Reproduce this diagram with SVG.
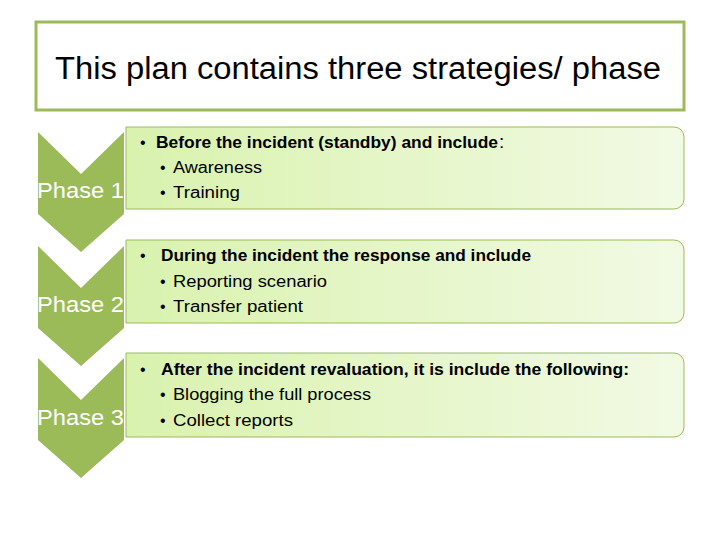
<svg xmlns="http://www.w3.org/2000/svg" width="720" height="540" viewBox="0 0 720 540">
<defs>
<linearGradient id="g" x1="0" y1="0" x2="1" y2="0">
<stop offset="0" stop-color="#d9f2ae"/>
<stop offset="1" stop-color="#f2fae4"/>
</linearGradient>
<style>
.t{font-family:"Liberation Sans",Arial,sans-serif;fill:#000}
.b{font-weight:bold;font-size:16px}
.s{font-size:16px}
.ph{font-family:"Liberation Sans",Arial,sans-serif;font-size:22px;fill:#fff}
.chev{fill:#9bbb59}
.box{fill:url(#g);stroke:#9bbb59;stroke-width:1}
</style>
</defs>
<rect width="720" height="540" fill="#fff"/>
<g id="title">
<rect x="36" y="22" width="648" height="88" fill="#fff" stroke="#9bbb59" stroke-width="3"/>
<text class="t" x="358" y="79" font-size="31" text-anchor="middle" textLength="606" lengthAdjust="spacingAndGlyphs">This plan contains three strategies/ phase</text>
</g>
<g id="phase1">
<path class="box" d="M126,127 H674 A10,10 0 0 1 684,137 V199 A10,10 0 0 1 674,209 H126 Z"/>
<polygon class="chev" points="38,132 81,174 124,132 124,214 81,252 38,214"/>
<text class="ph" x="37" y="198" textLength="87" lengthAdjust="spacingAndGlyphs">Phase 1</text>
<text class="t s" x="140" y="148">•</text>
<text class="t b" x="156" y="148" textLength="342" lengthAdjust="spacingAndGlyphs">Before the incident (standby) and include</text>
<text class="t" x="499" y="148" font-size="19">:</text>
<text class="t s" x="160" y="173">•</text>
<text class="t s" x="173" y="173" textLength="89" lengthAdjust="spacingAndGlyphs">Awareness</text>
<text class="t s" x="160" y="198">•</text>
<text class="t s" x="173" y="198" textLength="67" lengthAdjust="spacingAndGlyphs">Training</text>
</g>
<g id="phase2">
<path class="box" d="M126,240 H674 A10,10 0 0 1 684,250 V313 A10,10 0 0 1 674,323 H126 Z"/>
<polygon class="chev" points="38,246 81,288 124,246 124,328 81,366 38,328"/>
<text class="ph" x="37" y="312" textLength="87" lengthAdjust="spacingAndGlyphs">Phase 2</text>
<text class="t s" x="140" y="261">•</text>
<text class="t b" x="161" y="261" textLength="370" lengthAdjust="spacingAndGlyphs">During the incident the response and include</text>
<text class="t s" x="160" y="287">•</text>
<text class="t s" x="173" y="287" textLength="154" lengthAdjust="spacingAndGlyphs">Reporting scenario</text>
<text class="t s" x="160" y="312">•</text>
<text class="t s" x="173" y="312" textLength="130" lengthAdjust="spacingAndGlyphs">Transfer patient</text>
</g>
<g id="phase3">
<path class="box" d="M126,353 H674 A10,10 0 0 1 684,363 V427 A10,10 0 0 1 674,437 H126 Z"/>
<polygon class="chev" points="38,358 81,400 124,358 124,440 81,478 38,440"/>
<text class="ph" x="37" y="425" textLength="87" lengthAdjust="spacingAndGlyphs">Phase 3</text>
<text class="t s" x="140" y="375">•</text>
<text class="t b" x="161" y="375" textLength="468" lengthAdjust="spacingAndGlyphs">After the incident revaluation, it is include the following:</text>
<text class="t s" x="160" y="400">•</text>
<text class="t s" x="173" y="400" textLength="198" lengthAdjust="spacingAndGlyphs">Blogging the full process</text>
<text class="t s" x="160" y="426">•</text>
<text class="t s" x="173" y="426" textLength="120" lengthAdjust="spacingAndGlyphs">Collect reports</text>
</g>
<g id="connectors"></g>
</svg>
